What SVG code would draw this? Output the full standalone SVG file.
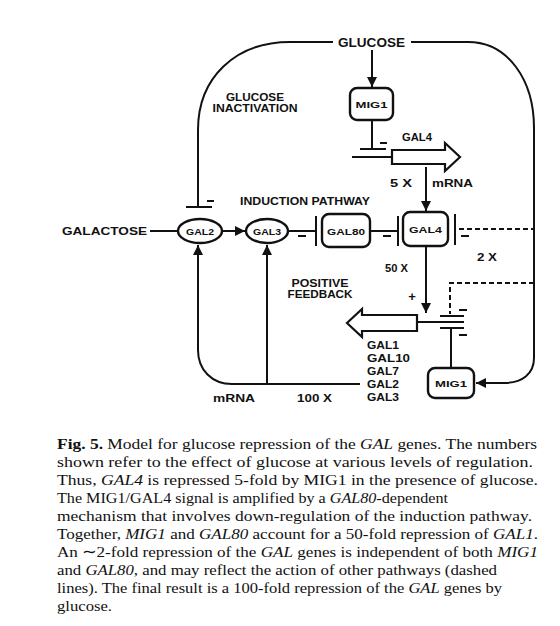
<svg xmlns="http://www.w3.org/2000/svg" width="560" height="626" viewBox="0 0 560 626">
<style>
.l{font-family:"Liberation Sans",Arial,sans-serif;font-weight:bold;fill:#111;}
.s{font-size:10.5px;}
.n{font-size:9.5px;text-anchor:middle;}
.c{stroke:#111;stroke-width:2;fill:none;}
.d{stroke:#111;stroke-width:2;fill:none;stroke-dasharray:5 3;}
.box{stroke:#111;stroke-width:2.4;fill:#fff;}
.cap{font-family:"Liberation Serif","Times New Roman",serif;font-size:15.5px;fill:#111;}
</style>
<defs>
<marker id="ah" viewBox="0 0 10 10" refX="10" refY="5" markerWidth="5" markerHeight="5" orient="auto" markerUnits="strokeWidth">
<path d="M0,0 L10,5 L0,10 Z" fill="#111"/>
</marker>
</defs>
<rect width="560" height="626" fill="#fff"/>

<g id="connectors">
<path class="c" d="M333,42 H290 C235,42 198,78 198,130 V207"/>
<path class="c" d="M186,207 H212"/>
<path class="c" d="M207,201 H214"/>
<path class="c" d="M411,42 H468 C508,42 534,80 534,128 V358 C534,374 522,383 504,383 H476" marker-end="url(#ah)"/>
<path class="c" d="M372,50 V87" marker-end="url(#ah)"/>
<path class="c" d="M372,120 V149"/>
<path class="c" d="M360,149 H386"/>
<path class="c" d="M380,143 H387"/>
<path class="c" d="M352,157 H392"/>
<path class="c" d="M426,167 V211" marker-end="url(#ah)"/>
<path class="c" d="M150,231 H178"/>
<path class="c" d="M222,231 H245" marker-end="url(#ah)"/>
<path class="c" d="M288,231 H316"/>
<path class="c" d="M316,216 V246"/>
<path class="c" d="M298,236 H306"/>
<path class="c" d="M370,231 H398"/>
<path class="c" d="M398,216 V246"/>
<path class="c" d="M383,236 H391"/>
<path class="c" d="M455,214 V245"/>
<path class="d" d="M459,229 H534"/>
<path class="c" d="M461,236 H469"/>
<path class="c" d="M426,247 V313" marker-end="url(#ah)"/>
<path class="d" d="M534,283 H450 V314"/>
<path class="c" d="M440,316 H464"/>
<path class="c" d="M459,310 H467"/>
<path class="c" d="M417,322 H464"/>
<path class="c" d="M440,328 H464"/>
<path class="c" d="M459,335 H467"/>
<path class="c" d="M451,328 V368"/>
<path class="c" d="M360,384 H232 C212,384 198,370 198,350 V245" marker-end="url(#ah)"/>
<path class="c" d="M267,384 V245" marker-end="url(#ah)"/>
</g>

<g id="glucose"><text class="l" x="338" y="47" font-size="13" textLength="67" lengthAdjust="spacingAndGlyphs">GLUCOSE</text></g>
<g id="mig1_top"><rect class="box" x="350" y="88" width="43" height="32" rx="7"/><text class="l n" x="371.5" y="108" textLength="32" lengthAdjust="spacingAndGlyphs">MIG1</text></g>
<g id="gal4_gene">
<polygon points="392,150 445,150 445,143 460,157 445,171 445,164 392,164" fill="#fff" stroke="#111" stroke-width="2.2" stroke-linejoin="miter"/>
<text class="l s" x="402" y="141" textLength="30" lengthAdjust="spacingAndGlyphs">GAL4</text>
</g>
<g id="lbl_5x"><text class="l s" x="390" y="187" textLength="22" lengthAdjust="spacingAndGlyphs">5 X</text><text class="l s" x="432" y="187" textLength="41" lengthAdjust="spacingAndGlyphs">mRNA</text></g>
<g id="lbl_inact"><text class="l s" x="255" y="101" text-anchor="middle" textLength="58" lengthAdjust="spacingAndGlyphs">GLUCOSE</text><text class="l s" x="255" y="112" text-anchor="middle" textLength="85" lengthAdjust="spacingAndGlyphs">INACTIVATION</text></g>
<g id="lbl_induction"><text class="l s" x="240" y="205" textLength="130" lengthAdjust="spacingAndGlyphs">INDUCTION PATHWAY</text></g>
<g id="galactose"><text class="l" x="62" y="235" font-size="11" textLength="85" lengthAdjust="spacingAndGlyphs">GALACTOSE</text></g>
<g id="gal2"><ellipse class="box" cx="200" cy="231" rx="22" ry="12"/><text class="l n" x="200" y="235" textLength="28" lengthAdjust="spacingAndGlyphs">GAL2</text></g>
<g id="gal3"><ellipse class="box" cx="267" cy="231" rx="21" ry="12"/><text class="l n" x="267" y="235" textLength="28" lengthAdjust="spacingAndGlyphs">GAL3</text></g>
<g id="gal80"><rect class="box" x="322" y="214" width="48" height="33" rx="7"/><text class="l n" x="346" y="235" textLength="38" lengthAdjust="spacingAndGlyphs">GAL80</text></g>
<g id="gal4"><rect class="box" x="403" y="212" width="45" height="34" rx="7"/><text class="l n" x="425.5" y="233" textLength="33" lengthAdjust="spacingAndGlyphs">GAL4</text></g>
<g id="lbl_2x"><text class="l s" x="477" y="261" textLength="20" lengthAdjust="spacingAndGlyphs">2 X</text></g>
<g id="lbl_50x"><text class="l s" x="385" y="272" textLength="23" lengthAdjust="spacingAndGlyphs">50 X</text></g>
<g id="lbl_feedback"><text class="l s" x="320" y="287" text-anchor="middle" textLength="57" lengthAdjust="spacingAndGlyphs">POSITIVE</text><text class="l s" x="320" y="298" text-anchor="middle" textLength="65" lengthAdjust="spacingAndGlyphs">FEEDBACK</text><text class="l" x="412" y="301" font-size="13" text-anchor="middle">+</text></g>
<g id="gal_genes">
<polygon points="347,323 362,309 362,315 417,315 417,331 362,331 362,337" fill="#fff" stroke="#111" stroke-width="2.2"/>
<text class="l" font-size="11.5" x="367" y="349" textLength="32" lengthAdjust="spacingAndGlyphs">GAL1</text>
<text class="l" font-size="11.5" x="367" y="362" textLength="43" lengthAdjust="spacingAndGlyphs">GAL10</text>
<text class="l" font-size="11.5" x="367" y="375" textLength="32" lengthAdjust="spacingAndGlyphs">GAL7</text>
<text class="l" font-size="11.5" x="367" y="388" textLength="32" lengthAdjust="spacingAndGlyphs">GAL2</text>
<text class="l" font-size="11.5" x="367" y="401" textLength="32" lengthAdjust="spacingAndGlyphs">GAL3</text>
</g>
<g id="mig1_bottom"><rect class="box" x="428" y="368" width="46" height="30" rx="7"/><text class="l n" x="451" y="387" textLength="32" lengthAdjust="spacingAndGlyphs">MIG1</text></g>
<g id="lbl_bottom"><text class="l s" x="213" y="402" textLength="42" lengthAdjust="spacingAndGlyphs">mRNA</text><text class="l s" x="297" y="402" textLength="35" lengthAdjust="spacingAndGlyphs">100 X</text></g>

<g id="caption">
<text class="cap" x="57" y="449" textLength="480" lengthAdjust="spacingAndGlyphs"><tspan font-weight="bold">Fig. 5.</tspan> Model for glucose repression of the <tspan font-style="italic">GAL</tspan> genes. The numbers</text>
<text class="cap" x="57" y="467" textLength="476" lengthAdjust="spacingAndGlyphs">shown refer to the effect of glucose at various levels of regulation.</text>
<text class="cap" x="57" y="485" textLength="481" lengthAdjust="spacingAndGlyphs">Thus, <tspan font-style="italic">GAL4</tspan> is repressed 5-fold by MIG1 in the presence of glucose.</text>
<text class="cap" x="57" y="503" textLength="391" lengthAdjust="spacingAndGlyphs">The MIG1/GAL4 signal is amplified by a <tspan font-style="italic">GAL80</tspan>-dependent</text>
<text class="cap" x="57" y="521" textLength="475" lengthAdjust="spacingAndGlyphs">mechanism that involves down-regulation of the induction pathway.</text>
<text class="cap" x="57" y="539" textLength="481" lengthAdjust="spacingAndGlyphs">Together, <tspan font-style="italic">MIG1</tspan> and <tspan font-style="italic">GAL80</tspan> account for a 50-fold repression of <tspan font-style="italic">GAL1</tspan>.</text>
<text class="cap" x="57" y="557" textLength="481" lengthAdjust="spacingAndGlyphs">An ∼2-fold repression of the <tspan font-style="italic">GAL</tspan> genes is independent of both <tspan font-style="italic">MIG1</tspan></text>
<text class="cap" x="57" y="575" textLength="440" lengthAdjust="spacingAndGlyphs">and <tspan font-style="italic">GAL80</tspan>, and may reflect the action of other pathways (dashed</text>
<text class="cap" x="57" y="593" textLength="445" lengthAdjust="spacingAndGlyphs">lines). The final result is a 100-fold repression of the <tspan font-style="italic">GAL</tspan> genes by</text>
<text class="cap" x="57" y="611" textLength="55" lengthAdjust="spacingAndGlyphs">glucose.</text>
</g>
</svg>
